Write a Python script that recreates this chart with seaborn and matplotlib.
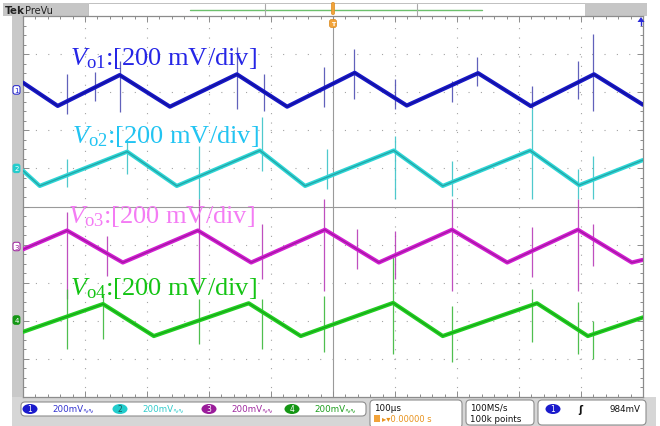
import numpy as np
import pandas as pd
import matplotlib
matplotlib.use("Agg")
import matplotlib.pyplot as plt
import seaborn as sns
from matplotlib.patches import FancyBboxPatch, Rectangle, Ellipse, Polygon

# ---------------- data (time in us, voltage in mV relative to channel level) -------------
channels = ["CH1", "CH2", "CH3", "CH4"]
ch1_t = [-500, -444, -344, -263, -155, -74, 35, 119, 234, 319, 421, 500]
ch1_mv = [38, -84, 78, -88, 82, -88, 90, -82, 88, -85, 82, -78]
ch2_t = [-500, -473, -332, -252, -118, -45, 98, 177, 318, 397, 500]
ch2_mv = [-12, -92, 88, -92, 94, -92, 94, -92, 94, -88, 44]
ch3_t = [-500, -429, -339, -218, -132, -13, 74, 192, 281, 395, 482, 500]
ch3_mv = [-15, 84, -84, 84, -84, 88, -84, 88, -84, 88, -84, -70]
ch4_t = [-500, -371, -289, -136, -52, 97, 177, 329, 411, 500]
ch4_mv = [-62, 84, -84, 88, -84, 90, -84, 88, -84, 14]

# switching spikes: time (us), top (mV), bottom (mV)
ch1_spk_t = [-429, -384, -344, -155, -111, -15, 34, 100, 192, 232, 321, 395, 419]
ch1_spk_top = [84, 95, 152, 226, 84, 121, 215, 58, 47, 173, 21, 152, 294]
ch1_spk_bot = [-126, -58, -116, -100, -110, -89, -47, -100, -63, 21, -100, -47, -110]
ch2_spk_t = [-429, -332, -216, -115, -10, 100, 192, 321, 395, 419]
ch2_spk_top = [50, 155, 118, 270, 102, 171, 39, 312, -3, 66]
ch2_spk_bot = [-97, -29, -160, -13, -108, -160, -144, -160, -160, -160]
ch3_spk_t = [-429, -365, -216, -115, -15, 39, 100, 192, 321, 395, 419]
ch3_spk_top = [181, 55, 249, 118, 249, 92, 81, 249, 102, 249, 118]
ch3_spk_bot = [-276, -155, -234, -171, -234, -118, -171, -234, -160, -234, -102]
ch4_spk_t = [-429, -371, -216, -115, -15, 97, 192, 321, 395, 419]
ch4_spk_top = [163, 137, 110, 110, 126, 331, 74, 163, 95, -5]
ch4_spk_bot = [-152, -100, -126, -152, -168, -179, -220, -116, -179, -205]

offsets_div = [3.06, 1.00, -1.05, -2.98]
mv_per_div = 200
label_texts = [r"$V_{\mathrm{o1}}$:[200 mV/div]", r"$V_{\mathrm{o2}}$:[200 mV/div]",
               r"$V_{\mathrm{o3}}$:[200 mV/div]", r"$V_{\mathrm{o4}}$:[200 mV/div]"]
scale_texts = ["200mV", "200mV", "200mV", "200mV"]
timebase_text = "100\u00b5s"
delay_text = "\u25b8\u25be0.00000 s"
rate_text = "100MS/s"
points_text = "100k points"
trig_text = "984mV"

# ---------------- styles -------------
trace_col = ["#1818c8", "#2ed6d6", "#d21fd2", "#22d022"]
core_col = ["#0a0a70", "#1b6f74", "#701070", "#0f7a0f"]
spike_col = ["#5050b4", "#3cc4c8", "#b83cb8", "#3cb83c"]
label_col = ["#2626e6", "#22c4f2", "#f47cf4", "#14c414"]
badge_col = ["#1a1acc", "#22cccc", "#9a1c9a", "#149614"]
scale_col = ["#3434d0", "#33cccc", "#a02aa0", "#1f9f1f"]

sns.set_theme(style="white")
plt.rcParams["font.family"] = ["DejaVu Sans"]
plt.rcParams["mathtext.fontset"] = "custom"
plt.rcParams["mathtext.rm"] = "Liberation Serif"
plt.rcParams["mathtext.it"] = "Liberation Serif:italic"
plt.rcParams["lines.scale_dashes"] = False

W, H = 660, 427
fig = plt.figure(figsize=(W / 100, H / 100), dpi=100)
fig.patch.set_facecolor("white")

# pixel-coordinate background layer
bg = fig.add_axes([0, 0, 1, 1], zorder=0)
bg.set_xlim(0, W); bg.set_ylim(H, 0); bg.axis("off")

# plot area geometry (pixels)
L, R, T, B = 23, 643, 17, 398
ax = fig.add_axes([L / W, (H - B) / H, (R - L) / W, (B - T) / H], zorder=2)
ax.set_facecolor("white")
ax.set_xlim(-500, 500); ax.set_ylim(-5, 5)

# frame pieces
bg.add_patch(Rectangle((12, 16), 11, B - 16, fc="#c9c9c9", ec="none"))
bg.add_patch(Rectangle((12, B), 644, H - B, fc="#d6d6d6", ec="none"))
bg.add_patch(Rectangle((3, 4), 85, 12.5, fc="#c6c6c6", ec="none"))
bg.add_patch(Rectangle((88, 4), 497, 12.5, fc="white", ec="#c0c0c0", lw=0.7))
bg.add_patch(Rectangle((585, 4), 62, 12.5, fc="#c6c6c6", ec="none"))
bg.plot([190, 482], [10.5, 10.5], color="#6cc06c", lw=1.0)
for xx in (265, 417):
    bg.plot([xx, xx], [4.5, 16], color="#a8a8a8", lw=0.8)
bg.text(5, 10.5, "Tek", fontsize=7.5, fontweight="bold", va="center", ha="left", color="#222222")
bg.text(25, 10.5, "PreVu", fontsize=7, va="center", ha="left", color="#222222")

# graticule
for i in range(-4, 5):
    if i != 0:
        ax.axvline(i * 100, color="#a4a4a4", lw=0.8, dashes=(0.8, 6.0), zorder=0.5)
        ax.axhline(i, color="#a4a4a4", lw=0.8, dashes=(0.8, 8.1), zorder=0.5)
ax.set_xticks(np.arange(-500, 501, 100)); ax.set_xticks(np.arange(-500, 501, 20), minor=True)
ax.set_yticks(np.arange(-5, 6, 1)); ax.set_yticks(np.arange(-5, 5.01, 0.25), minor=True)
ax.tick_params(which="both", direction="in", top=True, right=True, left=True, bottom=True,
               labelleft=False, labelbottom=False, color="#8c8c8c", width=0.7)
ax.tick_params(which="major", length=4)
ax.tick_params(which="minor", length=2.5)
for s in ax.spines.values():
    s.set_color("#8c8c8c"); s.set_linewidth(0.9)

ax2 = fig.add_axes(ax.get_position(), zorder=2.5, facecolor="none")
ax2.set_xlim(-500, 500); ax2.set_ylim(-5, 5)
ax2.spines["top"].set_visible(False); ax2.spines["right"].set_visible(False)
ax2.spines["left"].set_position(("data", 0)); ax2.spines["bottom"].set_position(("data", 0))
for s in ("left", "bottom"):
    ax2.spines[s].set_color("#9a9a9a"); ax2.spines[s].set_linewidth(0.8)
ax2.set_xticks(np.arange(-480, 481, 20)); ax2.set_yticks(np.arange(-4.75, 4.76, 0.25))
ax2.tick_params(direction="inout", length=4, width=0.7, color="#9a9a9a",
                labelleft=False, labelbottom=False)
ax2.set_zorder(1.5); ax.set_zorder(2); ax.patch.set_visible(False)
ax2.patch.set_visible(True); ax2.patch.set_facecolor("white")

# traces
ts = [ch1_t, ch2_t, ch3_t, ch4_t]
vs = [ch1_mv, ch2_mv, ch3_mv, ch4_mv]
rows = []
for ch, t, v, off in zip(channels, ts, vs, offsets_div):
    for tt, vv in zip(t, v):
        rows.append({"ch": ch, "t": tt, "y": vv / mv_per_div + off})
df = pd.DataFrame(rows)

spk = [(ch1_spk_t, ch1_spk_top, ch1_spk_bot), (ch2_spk_t, ch2_spk_top, ch2_spk_bot),
       (ch3_spk_t, ch3_spk_top, ch3_spk_bot), (ch4_spk_t, ch4_spk_top, ch4_spk_bot)]
for k, (st, stop, sbot) in enumerate(spk):
    ax.vlines(st, np.array(sbot) / mv_per_div + offsets_div[k],
              np.array(stop) / mv_per_div + offsets_div[k],
              colors=spike_col[k], lw=0.9, alpha=0.9, zorder=2)

sns.lineplot(data=df, x="t", y="y", hue="ch", palette=dict(zip(channels, trace_col)),
             lw=3.0, sort=False, estimator=None, legend=False, ax=ax, zorder=3)
sns.lineplot(data=df, x="t", y="y", hue="ch", palette=dict(zip(channels, core_col)),
             lw=0.9, alpha=0.5, sort=False, estimator=None, legend=False, ax=ax, zorder=4)
ax.set_xlim(-500, 500); ax.set_ylim(-5, 5)
ax.set_xlabel(""); ax.set_ylabel("")

# labels
label_pos = [(-424, 3.74), (-421, 1.69), (-427, -0.41), (-424, -2.30)]
for k in range(4):
    ax.text(label_pos[k][0], label_pos[k][1], label_texts[k], color=label_col[k],
            fontsize=19, family="Liberation Serif", va="baseline", ha="left", zorder=6)

# channel level markers on the left
def py(ydiv):
    return (T + B) / 2 - ydiv * (B - T) / 10

for k in range(4):
    yc = py(offsets_div[k])
    filled = k in (1, 3)
    bg.text(16.5, yc, str(k + 1), fontsize=5, ha="center", va="center",
            color="white" if filled else badge_col[k], zorder=3,
            bbox=dict(boxstyle="round,pad=0.18,rounding_size=0.3",
                      fc=badge_col[k] if filled else "white", ec=badge_col[k], lw=0.7))

# overlay layer (trigger markers)
fg = fig.add_axes([0, 0, 1, 1], zorder=10)
fg.set_xlim(0, W); fg.set_ylim(H, 0); fg.axis("off"); fg.patch.set_visible(False)
fg.add_patch(FancyBboxPatch((331.5, 3.5), 3, 12, boxstyle="round,pad=0,rounding_size=1.2",
                            fc="#f2a33a", ec="#d98a20", lw=0.5))
fg.text(333, 24.5, "T", fontsize=4.5, color="white", ha="center", va="center", fontweight="bold",
        bbox=dict(boxstyle="round,pad=0.25,rounding_size=0.4", fc="#f2a33a", ec="#d98a20", lw=0.5))
fg.add_patch(Polygon([[637.5, 23], [644.5, 23], [641, 18]], closed=True, fc="#2a2ad8", ec="none"))
fg.plot([641, 641], [22, 26], color="#2a2ad8", lw=1)

# bottom status bar
bg.add_patch(FancyBboxPatch((21, 403), 345, 14, boxstyle="round,pad=0,rounding_size=4",
                            fc="white", ec="#8e8e8e", lw=0.8))
bg.add_patch(FancyBboxPatch((370, 401), 92, 28, boxstyle="round,pad=0,rounding_size=4",
                            fc="white", ec="#8e8e8e", lw=0.8))
bg.add_patch(FancyBboxPatch((466, 401), 68, 25, boxstyle="round,pad=0,rounding_size=4",
                            fc="white", ec="#8e8e8e", lw=0.8))
bg.add_patch(FancyBboxPatch((538, 401), 108, 25, boxstyle="round,pad=0,rounding_size=4",
                            fc="white", ec="#8e8e8e", lw=0.8))
badge_x = [30, 120, 209, 292]
for k in range(4):
    bx = badge_x[k]
    bg.add_patch(Ellipse((bx, 410), 15, 10, fc=badge_col[k], ec="none"))
    bg.text(bx, 410, str(k + 1), fontsize=5.5, color="white" if k != 1 else "#1b5c5c",
            ha="center", va="center")
    bg.text(bx + 22, 410, scale_texts[k], fontsize=6.3, color=scale_col[k], ha="left", va="center")
    bg.text(bx + 52, 410, "\u223f\u223f", fontsize=5, color=scale_col[k], ha="left", va="center")
bg.text(374, 408.5, timebase_text, fontsize=6.3, color="#111111", ha="left", va="center")
bg.add_patch(Rectangle((374, 416), 6, 7, fc="#f2a33a", ec="none"))
bg.text(382, 420, delay_text, fontsize=6, color="#e8921c", ha="left", va="center")
bg.text(470, 408.5, rate_text, fontsize=6.3, color="#111111", ha="left", va="center")
bg.text(470, 420, points_text, fontsize=6.3, color="#111111", ha="left", va="center")
bg.add_patch(Ellipse((553, 410), 15, 10, fc=badge_col[0], ec="none"))
bg.text(553, 410, "1", fontsize=5.5, color="white", ha="center", va="center")
bg.text(580, 410, "\u0283", fontsize=7, color="#111111", ha="center", va="center", fontweight="bold")
bg.text(641, 410, trig_text, fontsize=6.3, color="#111111", ha="right", va="center")

fig.savefig("out.png", dpi=100)
